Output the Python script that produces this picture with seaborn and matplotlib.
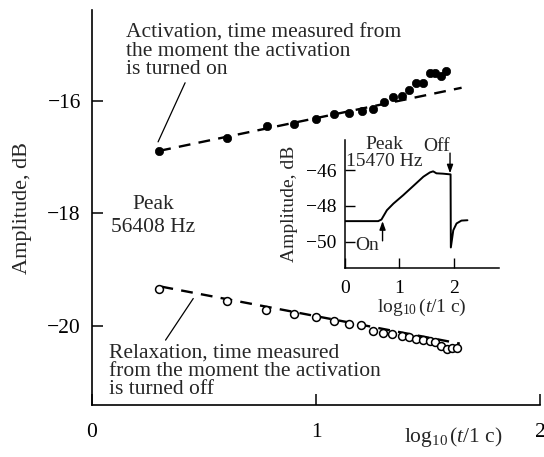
import numpy as np
import pandas as pd
import matplotlib
matplotlib.use("Agg")
import matplotlib.pyplot as plt
import seaborn as sns

# main panel: activation (filled) and relaxation (open), peak 56408 Hz
act_x = [0.300, 0.604, 0.781, 0.904, 1.002, 1.079, 1.146, 1.205, 1.256, 1.304,
         1.344, 1.382, 1.417, 1.446, 1.479, 1.507, 1.530, 1.557, 1.581]
act_y = [-16.89, -16.66, -16.44, -16.41, -16.33, -16.24, -16.22, -16.19, -16.15, -16.02,
         -15.93, -15.91, -15.81, -15.69, -15.68, -15.50, -15.50, -15.57, -15.48]
act_fit_x = [0.300, 1.650]
act_fit_y = [-16.89, -15.77]

rel_x = [0.300, 0.601, 0.777, 0.904, 1.000, 1.079, 1.146, 1.203, 1.256, 1.301, 1.341,
         1.382, 1.417, 1.448, 1.479, 1.507, 1.532, 1.557, 1.583, 1.608, 1.631]
rel_y = [-19.34, -19.56, -19.71, -19.78, -19.84, -19.91, -19.97, -19.98, -20.09, -20.12, -20.14,
         -20.18, -20.20, -20.23, -20.24, -20.27, -20.29, -20.35, -20.40, -20.38, -20.38]
rel_fit_x = [0.310, 1.642]
rel_fit_y = [-19.30, -20.31]

# inset: peak 15470 Hz, on at ~0.69, off at ~1.94
ins_x = [0.00, 0.61, 0.67, 0.77, 0.89, 1.07, 1.25, 1.44, 1.56, 1.62, 1.68, 1.80, 1.94,
         1.945, 1.99, 2.05, 2.14, 2.25]
ins_y = [-48.85, -48.85, -48.76, -48.24, -47.87, -47.40, -46.90, -46.37, -46.13, -46.07,
         -46.18, -46.20, -46.24, -50.32, -49.36, -48.98, -48.82, -48.80]

main_xticks = [0, 1, 2]
main_yticks = [-16, -18, -20]
ins_xticks = [0, 1, 2]
ins_yticks = [-46, -48, -50]

sns.set_style("ticks")
plt.rcParams["font.family"] = ["Liberation Serif", "DejaVu Serif"]
plt.rcParams["mathtext.fontset"] = "custom"
plt.rcParams["mathtext.rm"] = "Liberation Serif"
plt.rcParams["mathtext.it"] = "Liberation Serif:italic"

XLABEL = r"$\log_{10}(t/1\ \mathrm{c})$"

fig = plt.figure(figsize=(5.44, 4.57), dpi=100)
ax = fig.add_axes([92 / 544, 1 - 405 / 457, 448 / 544, 395 / 457])

dash = (0, (5, 3.5))
sns.lineplot(x=act_fit_x, y=act_fit_y, ax=ax, color="black", lw=1.7, linestyle=dash)
sns.lineplot(x=rel_fit_x, y=rel_fit_y, ax=ax, color="black", lw=1.7, linestyle=dash)
sns.scatterplot(x=act_x, y=act_y, ax=ax, color="black", s=36, edgecolor="black",
                linewidth=0.5, zorder=3)
sns.scatterplot(x=rel_x, y=rel_y, ax=ax, facecolor="white", s=32, edgecolor="black",
                linewidth=1.1, zorder=3)

ax.set_xlim(0, 2)
ax.set_ylim(-21.40, -14.39)
ax.set_xticks(main_xticks)
ax.set_yticks(main_yticks)
ax.tick_params(direction="in", length=8, width=1.1, labelsize=15.5, colors="black")
ax.tick_params(axis="x", pad=13)
ax.tick_params(axis="y", pad=8)
for s in ["top", "right"]:
    ax.spines[s].set_visible(False)
for s in ["left", "bottom"]:
    ax.spines[s].set_linewidth(1.2)
    ax.spines[s].set_color("black")
ax.set_ylabel("Amplitude, dB", fontsize=16, labelpad=11)
ax.set_xlabel(XLABEL, fontsize=15.5)
ax.xaxis.set_label_coords(361 / 448, -20 / 395)

ax.annotate("Activation, time measured from\nthe moment the activation\nis turned on",
            xy=(0.295, -16.73), xytext=(0.152, -15.13), fontsize=15.5, linespacing=0.95,
            ha="left", va="center",
            arrowprops=dict(arrowstyle="-", color="black", lw=0.9,
                            shrinkA=0, shrinkB=0, relpos=(0.22, 0)))
ax.annotate("Relaxation, time measured\nfrom the moment the activation\nis turned off",
            xy=(0.452, -19.51), xytext=(0.076, -20.80), fontsize=15.5, linespacing=0.95,
            ha="left", va="center",
            arrowprops=dict(arrowstyle="-", color="black", lw=0.9,
                            shrinkA=0, shrinkB=0, relpos=(0.2, 1)))
ax.text(0.272, -18.04, "Peak\n56408 Hz", fontsize=15.5, ha="center", va="center",
        linespacing=1.3)

# inset
ins = fig.add_axes([345 / 544, 1 - 267.7 / 457, 154 / 544, 127.7 / 457])
ins.patch.set_alpha(0)
sns.lineplot(x=ins_x, y=ins_y, ax=ins, color="black", lw=1.4, sort=False, estimator=None)
ins.set_xlim(0, 2.83)
ins.set_ylim(-51.45, -44.32)
ins.set_xticks(ins_xticks)
ins.set_yticks(ins_yticks)
ins.tick_params(direction="in", length=7, width=1.0, labelsize=14, colors="black")
ins.tick_params(axis="x", pad=9)
ins.tick_params(axis="y", pad=6)
for s in ["top", "right"]:
    ins.spines[s].set_visible(False)
for s in ["left", "bottom"]:
    ins.spines[s].set_linewidth(1.1)
    ins.spines[s].set_color("black")
ins.set_ylabel("Amplitude, dB", fontsize=14, labelpad=6)
ins.set_xlabel(XLABEL, fontsize=14, labelpad=0)
ins.text(0.72, -45.05, "Peak\n15470 Hz", fontsize=14, ha="center", va="center",
         linespacing=0.95)
ins.annotate("", xy=(0.69, -48.85), xytext=(0.69, -49.95),
             arrowprops=dict(arrowstyle="-|>,head_length=0.5,head_width=0.18",
                             color="black", lw=1.0, shrinkA=0, shrinkB=0))
ins.annotate("", xy=(1.93, -46.18), xytext=(1.93, -45.05),
             arrowprops=dict(arrowstyle="-|>,head_length=0.5,head_width=0.18",
                             color="black", lw=1.0, shrinkA=0, shrinkB=0))
ins.text(0.40, -50.19, "On", fontsize=14, ha="center", va="center")
ins.text(1.68, -44.66, "Off", fontsize=14, ha="center", va="center")

fig.savefig("out.png", dpi=100)
